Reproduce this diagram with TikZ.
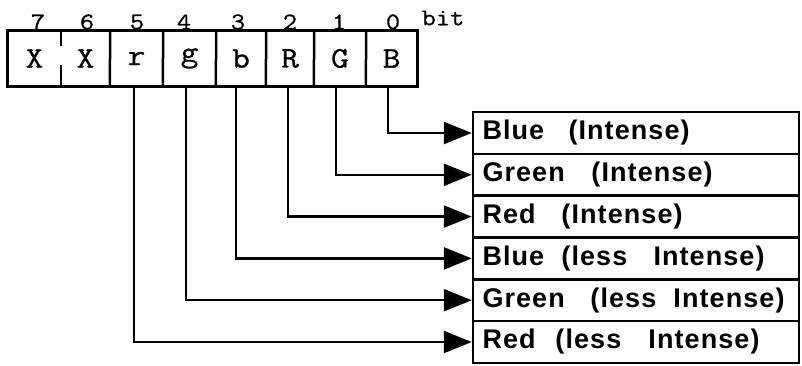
\documentclass[tikz,border=0pt]{standalone}
\usepackage{fontspec}
\usetikzlibrary{arrows.meta}
\newfontfamily\labfont{Liberation Sans}[LetterSpace=4]
\newfontfamily\regfont{Latin Modern Mono}[FakeStretch=1.15,FakeBold=0.8]
\tikzset{
  cell/.style={minimum height=55pt, inner sep=0pt, font=\regfont\fontsize{30}{30}\selectfont},
  bitnum/.style={inner sep=0pt, font=\regfont\fontsize{24}{24}\selectfont},
  lbox/.style={draw, line width=2.5pt, minimum width=326pt, minimum height=41.8pt,
    text width=307pt, align=left, inner xsep=9.5pt, inner ysep=0pt,
    font=\labfont\bfseries\fontsize{27}{27}\selectfont},
  conn/.style={line width=2.5pt, -{Triangle[length=28pt,width=22pt]}},
  frame/.style={line width=3pt},
  divider/.style={line width=2.5pt}
}
\newcommand{\wordbox}[2]{\makebox[#1pt][l]{#2}}
\begin{document}
\begin{tikzpicture}[x=1pt,y=-1pt]
\useasboundingbox (0,0) rectangle (802,365);
% register cells
\node[cell, minimum width=53pt] (c7) at (34.5,58.5) {X};
\node[cell, minimum width=49pt] (c6) at (85.5,58.5) {X};
\node[cell, minimum width=53pt] (c5) at (136.5,58.5) {r};
\node[cell, minimum width=53pt] (c4) at (189.5,58.5) {g};
\node[cell, minimum width=50pt] (c3) at (241,58.5) {b};
\node[cell, minimum width=48pt] (c2) at (290,58.5) {R};
\node[cell, minimum width=52pt] (c1) at (340,58.5) {G};
\node[cell, minimum width=51pt] (c0) at (391.5,58.5) {B};
\draw[frame] (c7.north west) rectangle (c0.south east);
\draw[divider] (c7.north east) -- ++(0,15);
\draw[divider] (c7.south east) -- ++(0,-21);
\foreach \a/\b in {c6/c5,c5/c4,c4/c3,c3/c2,c2/c1,c1/c0}
  \draw[divider] (\a.north east) -- (\b.south west);
% bit numbers
\node[bitnum] (n7) at (38,22) {7};
\node[bitnum] (n6) at (87,22) {6};
\node[bitnum] (n5) at (137,22) {5};
\node[bitnum] (n4) at (184,22) {4};
\node[bitnum] (n3) at (238,22) {3};
\node[bitnum] (n2) at (290,22) {2};
\node[bitnum] (n1) at (339,22) {1};
\node[bitnum] (n0) at (393,22) {0};
\node[bitnum] (bit) at (443,18) {bit};
% label boxes
\node[lbox] (L1) at (636,133) {\wordbox{86}{Blue}(Intense)};
\node[lbox] (L2) at (636,174.8) {\wordbox{109}{Green}(Intense)};
\node[lbox] (L3) at (636,216.6) {\wordbox{79}{Red}(Intense)};
\node[lbox] (L4) at (636,258.4) {\wordbox{79}{Blue}\wordbox{92}{(less}Intense)};
\node[lbox] (L5) at (636,300.2) {\wordbox{108}{Green}\wordbox{83}{(less}Intense)};
\node[lbox] (L6) at (636,342) {\wordbox{73}{Red}\wordbox{93}{(less}Intense)};
% connectors
\draw[conn] ([xshift=-3.5pt]c0.south) |- (L1.west);
\draw[conn] ([xshift=-4pt]c1.south) |- (L2.west);
\draw[conn] ([xshift=-2pt]c2.south) |- (L3.west);
\draw[conn] ([xshift=-5pt]c3.south) |- (L4.west);
\draw[conn] ([xshift=-3.5pt]c4.south) |- (L5.west);
\draw[conn] ([xshift=-2.5pt]c5.south) |- (L6.west);
\end{tikzpicture}
\end{document}
